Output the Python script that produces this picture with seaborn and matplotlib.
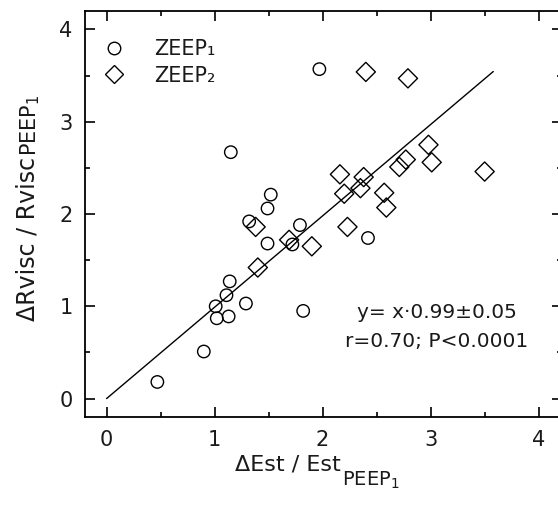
import numpy as np
import pandas as pd
import seaborn as sns
import matplotlib
matplotlib.use("Agg")
import matplotlib.pyplot as plt
from matplotlib.lines import Line2D
from matplotlib.ticker import MultipleLocator

# ---- data ----
zeep1_x = [0.47, 0.90, 1.01, 1.02, 1.13, 1.11, 1.14, 1.29, 1.15, 1.52, 1.49, 1.32,
           1.49, 1.79, 1.72, 1.82, 1.97, 2.42]
zeep1_y = [0.18, 0.51, 1.00, 0.87, 0.89, 1.12, 1.27, 1.03, 2.67, 2.21, 2.06, 1.92,
           1.68, 1.88, 1.67, 0.95, 3.57, 1.74]

zeep2_x = [1.40, 1.38, 1.69, 1.90, 2.16, 2.38, 2.35, 2.20, 2.57, 2.59, 2.23, 2.40,
           2.79, 2.98, 3.01, 2.77, 2.71, 3.50]
zeep2_y = [1.42, 1.86, 1.72, 1.65, 2.43, 2.40, 2.28, 2.22, 2.23, 2.07, 1.86, 3.54,
           3.47, 2.75, 2.56, 2.59, 2.51, 2.46]

fit_slope = 0.99
fit_x = [0.0, 3.58]

series_labels = ["ZEEP\u2081", "ZEEP\u2082"]
x_ticks = [0, 1, 2, 3, 4]
y_ticks = [0, 1, 2, 3, 4]
annot_lines = ["y= x\u00b70.99\u00b10.05", "r=0.70; P<0.0001"]
xlabel_main, ylabel_main = "\u0394Est / Est", "\u0394Rvisc / Rvisc"
label_sub = r"$\mathregular{PEEP_1}$"

# ---- plotting ----
sns.set_theme(style="ticks")
plt.rcParams["font.family"] = ["DejaVu Sans"]
plt.rcParams["mathtext.fontset"] = "dejavusans"

ink = "#1a1a1a"
fig = plt.figure(figsize=(5.58, 5.09), dpi=100)
ax = fig.add_axes([0.1523, 0.1807, 0.8556, 0.7977])

df1 = pd.DataFrame({"x": zeep1_x, "y": zeep1_y})
df2 = pd.DataFrame({"x": zeep2_x, "y": zeep2_y})
fit_df = pd.DataFrame({"x": fit_x, "y": [fit_slope * v for v in fit_x]})

sns.lineplot(data=fit_df, x="x", y="y", color="black", linewidth=1.0, ax=ax)
sns.scatterplot(data=df1, x="x", y="y", marker="o", s=80, facecolor="none",
                edgecolor="black", linewidth=1.0, ax=ax, zorder=3)
sns.scatterplot(data=df2, x="x", y="y", marker="D", s=95, facecolor="none",
                edgecolor="black", linewidth=1.0, ax=ax, zorder=3)

ax.set_xlim(-0.2, 4.22)
ax.set_ylim(-0.2, 4.2)
ax.set_xticks(x_ticks)
ax.set_yticks(y_ticks)
ax.xaxis.set_minor_locator(MultipleLocator(0.5))
ax.yaxis.set_minor_locator(MultipleLocator(0.5))
ax.tick_params(which="both", direction="in", top=True, right=True,
               width=1.2, color="black")
ax.tick_params(which="major", length=7, labelsize=15, pad=9, labelcolor=ink)
ax.tick_params(which="minor", length=3.5)
for sp in ax.spines.values():
    sp.set_linewidth(1.3)
    sp.set_color("black")

# axis labels: main part + larger-than-mathtext subscript
ax.set_xlabel(xlabel_main, fontsize=16, color=ink)
ax.set_ylabel(ylabel_main, fontsize=17, color=ink)
ax.xaxis.set_label_coords(0.425, -0.093)
ax.yaxis.set_label_coords(-0.096, 0.438)
ax.annotate(label_sub, xy=(1, 0), xycoords=ax.xaxis.label, xytext=(1, -8),
            textcoords="offset points", ha="left", va="baseline",
            fontsize=14, color=ink)
ax.annotate(label_sub, xy=(1, 1), xycoords=ax.yaxis.label, xytext=(2, 1),
            textcoords="offset points", ha="right", va="bottom", rotation=90,
            fontsize=15, color=ink)

handles = [
    Line2D([], [], linestyle="none", marker="o", markersize=9,
           markerfacecolor="none", markeredgecolor="black", markeredgewidth=1.0),
    Line2D([], [], linestyle="none", marker="D", markersize=9.5,
           markerfacecolor="none", markeredgecolor="black", markeredgewidth=1.0),
]
ax.legend(handles, series_labels, loc="upper left", bbox_to_anchor=(0.04, 0.93),
          frameon=False, fontsize=15, handlelength=1.0, handletextpad=1.4,
          labelspacing=0.3, borderaxespad=0, borderpad=0, labelcolor=ink)

ax.text(3.06, 0.93, annot_lines[0], ha="center", va="center", fontsize=14.5, color=ink)
ax.text(3.06, 0.62, annot_lines[1], ha="center", va="center", fontsize=14.5, color=ink)

fig.savefig("out.png", dpi=100)
